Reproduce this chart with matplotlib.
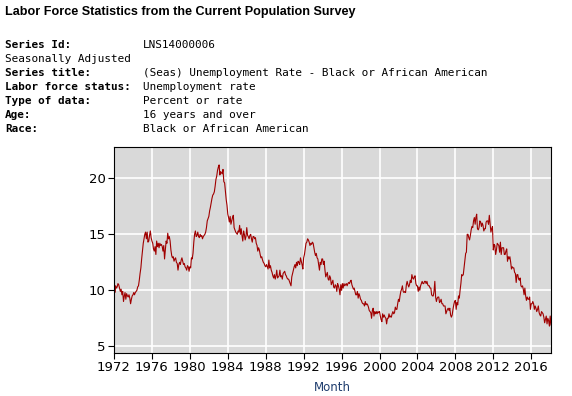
import matplotlib
matplotlib.use("Agg")
import matplotlib.pyplot as plt
import matplotlib.dates as mdates
import pandas as pd

# monthly unemployment rate, one row per year (Jan..Dec)
rates = {
    1972: [11.2, 9.8, 10.4, 10.2, 10.3, 10.6, 10.5, 10.2, 9.9, 10.1, 9.6, 9.9],
    1973: [9.0, 9.5, 9.8, 9.2, 9.7, 9.5, 9.4, 9.6, 9.3, 8.8, 9.2, 9.5],
    1974: [9.6, 9.8, 9.6, 9.8, 9.9, 10.0, 10.3, 10.4, 10.9, 11.5, 12.0, 12.8],
    1975: [13.5, 14.2, 14.6, 15.0, 15.2, 14.6, 15.2, 14.3, 14.4, 14.9, 15.3, 14.7],
    1976: [14.4, 14.2, 13.7, 13.5, 13.9, 13.2, 14.4, 13.9, 14.2, 13.8, 14.2, 14.0],
    1977: [14.1, 13.9, 13.5, 14.0, 12.8, 13.6, 14.4, 14.2, 15.1, 14.6, 14.8, 14.4],
    1978: [13.6, 13.1, 12.9, 13.0, 12.6, 12.8, 12.9, 12.5, 12.4, 11.8, 12.3, 12.5],
    1979: [12.3, 12.7, 12.9, 12.6, 12.3, 12.4, 12.1, 12.0, 11.8, 12.2, 12.1, 11.7],
    1980: [12.1, 12.0, 12.9, 12.8, 13.3, 14.3, 15.0, 15.3, 14.8, 14.9, 15.2, 14.8],
    1981: [14.7, 15.0, 14.8, 14.9, 14.6, 14.8, 14.9, 15.0, 15.2, 15.6, 16.2, 16.4],
    1982: [16.6, 17.1, 17.4, 17.8, 18.2, 18.5, 18.6, 18.8, 19.3, 19.9, 20.2, 20.7],
    1983: [21.0, 21.2, 20.3, 20.6, 20.5, 20.4, 20.8, 19.7, 19.6, 18.9, 18.1, 17.6],
    1984: [16.8, 16.5, 16.1, 16.6, 15.9, 16.2, 16.5, 16.7, 15.6, 15.4, 15.2, 15.1],
    1985: [15.0, 15.3, 15.2, 15.8, 15.0, 15.5, 14.9, 14.4, 15.3, 15.0, 14.5, 14.8],
    1986: [15.6, 14.9, 14.8, 14.6, 14.9, 15.0, 14.6, 14.3, 14.8, 14.8, 14.6, 14.7],
    1987: [14.2, 14.0, 13.5, 13.8, 13.6, 13.2, 12.9, 13.0, 12.7, 12.5, 12.4, 12.2],
    1988: [12.1, 12.3, 12.1, 11.9, 12.7, 12.0, 12.2, 11.8, 11.6, 11.3, 11.1, 11.4],
    1989: [11.0, 11.3, 11.8, 11.1, 11.2, 11.3, 11.8, 11.2, 11.3, 11.0, 11.5, 11.6],
    1990: [11.7, 11.4, 11.3, 11.1, 11.0, 11.0, 10.8, 10.6, 10.4, 11.2, 11.5, 11.8],
    1991: [12.1, 12.3, 12.0, 12.5, 12.2, 12.6, 12.5, 12.3, 12.9, 12.6, 12.3, 11.9],
    1992: [12.9, 13.2, 13.7, 14.2, 14.3, 14.6, 14.5, 14.3, 14.0, 14.2, 14.1, 14.3],
    1993: [14.2, 13.8, 13.4, 13.1, 13.3, 12.9, 12.8, 12.3, 11.8, 12.5, 12.3, 12.8],
    1994: [12.8, 12.3, 12.6, 11.8, 11.2, 11.4, 11.6, 11.0, 10.9, 11.3, 11.1, 10.5],
    1995: [10.7, 10.9, 10.3, 10.2, 10.5, 10.4, 9.9, 10.6, 10.4, 10.1, 9.6, 10.5],
    1996: [10.0, 10.6, 10.2, 10.6, 10.4, 10.5, 10.6, 10.4, 10.6, 10.7, 10.6, 10.8],
    1997: [10.9, 10.5, 10.3, 10.1, 10.2, 9.9, 9.6, 9.6, 9.9, 9.3, 9.7, 9.5],
    1998: [9.2, 9.1, 8.9, 8.8, 8.8, 8.6, 9.0, 8.7, 8.8, 8.7, 8.5, 8.2],
    1999: [8.1, 8.0, 7.5, 8.2, 8.4, 7.7, 8.1, 7.9, 8.1, 7.9, 8.1, 8.0],
    2000: [8.1, 7.7, 7.4, 7.2, 7.9, 7.6, 7.8, 7.6, 7.5, 7.0, 7.5, 7.5],
    2001: [7.9, 7.6, 7.7, 7.6, 7.9, 8.1, 7.9, 8.0, 8.5, 8.3, 8.3, 8.8],
    2002: [9.2, 9.0, 9.5, 9.9, 10.1, 10.4, 9.9, 9.8, 9.9, 9.8, 10.5, 10.8],
    2003: [10.5, 10.3, 10.5, 10.9, 10.7, 11.4, 11.1, 11.0, 11.2, 11.3, 10.6, 10.4],
    2004: [10.4, 9.9, 10.3, 10.0, 10.4, 10.6, 10.8, 10.6, 10.6, 10.8, 10.8, 10.6],
    2005: [10.8, 10.5, 10.4, 10.4, 10.2, 10.2, 9.6, 9.5, 9.5, 9.9, 10.8, 9.4],
    2006: [9.0, 9.3, 9.4, 9.4, 8.9, 9.0, 9.2, 8.8, 8.8, 8.6, 8.6, 8.6],
    2007: [7.9, 8.1, 8.3, 8.4, 8.2, 8.4, 7.8, 7.6, 7.8, 8.3, 8.7, 9.0],
    2008: [9.1, 8.3, 8.9, 8.7, 9.5, 9.3, 10.0, 10.6, 11.4, 11.3, 11.4, 12.0],
    2009: [12.6, 13.3, 13.4, 15.0, 15.0, 14.7, 14.5, 14.9, 15.4, 15.7, 15.6, 16.2],
    2010: [16.5, 15.9, 16.5, 16.8, 15.5, 15.4, 15.6, 16.2, 16.1, 15.7, 16.0, 15.8],
    2011: [15.3, 15.5, 15.5, 16.1, 16.2, 16.2, 15.9, 16.7, 15.9, 15.2, 15.5, 15.7],
    2012: [13.6, 14.1, 14.0, 13.2, 13.6, 14.2, 14.1, 14.0, 13.4, 14.3, 13.2, 13.8],
    2013: [13.8, 13.8, 13.2, 13.2, 13.5, 13.7, 12.6, 13.0, 12.8, 13.0, 12.5, 11.9],
    2014: [12.1, 12.0, 12.0, 11.6, 11.5, 10.7, 11.4, 11.4, 11.0, 10.9, 11.1, 10.4],
    2015: [10.3, 10.4, 10.1, 9.6, 10.2, 9.5, 9.1, 9.4, 9.2, 9.2, 9.4, 8.3],
    2016: [8.8, 8.8, 9.0, 8.8, 8.3, 8.6, 8.4, 8.1, 8.3, 8.6, 8.0, 7.8],
    2017: [7.7, 8.1, 8.0, 7.9, 7.6, 7.1, 7.4, 7.7, 7.0, 7.5, 7.3, 6.8],
    2018: [7.7, 6.9],
}

meta_labels = ["Series Id:", "Seasonally Adjusted", "Series title:",
               "Labor force status:", "Type of data:", "Age:", "Race:"]
meta_values = ["LNS14000006", "", "(Seas) Unemployment Rate - Black or African American",
               "Unemployment rate", "Percent or rate", "16 years and over",
               "Black or African American"]
meta_bold = [True, False, True, True, True, True, True]

values = [v for yr in sorted(rates) for v in rates[yr]]
months = pd.date_range("1972-01-01", periods=len(values), freq="MS")

W, H = 572, 396
fig = plt.figure(figsize=(W / 100, H / 100), dpi=100)

fig.text(5 / W, 1 - 12 / H, "Labor Force Statistics from the Current Population Survey",
         family="Liberation Sans", weight="bold", fontsize=9.1, va="center", ha="left")

for i, (lab, val, b) in enumerate(zip(meta_labels, meta_values, meta_bold)):
    y = 1 - (45 + 14 * i) / H
    fig.text(5 / W, y, lab, family="DejaVu Sans Mono", fontsize=7.9,
             weight="bold" if b else "normal", va="center", ha="left")
    if val:
        fig.text(143 / W, y, val, family="DejaVu Sans Mono", fontsize=7.9,
                 va="center", ha="left")

ax = fig.add_axes([114 / W, 1 - 353 / H, (551 - 114) / W, (353 - 147) / H])
ax.set_facecolor("#d9d9d9")
ax.plot(months, values, color="#a00000", lw=0.8)

ax.set_xlim(months[0], months[-1])
ax.set_ylim(4.4, 22.8)
ax.set_yticks([5, 10, 15, 20])
ax.xaxis.set_major_locator(mdates.YearLocator(4))
ax.xaxis.set_major_formatter(mdates.DateFormatter("%Y"))
ax.grid(True, color="white", lw=1.2)
ax.set_axisbelow(True)
ax.tick_params(labelsize=9.5, length=4, width=0.8, pad=2)
for s in ax.spines.values():
    s.set_linewidth(0.8)
    s.set_color("black")

ax.set_xlabel("Month", color="#1f3d6e", fontsize=8.5, labelpad=5)

fig.savefig("out.png", dpi=100)
